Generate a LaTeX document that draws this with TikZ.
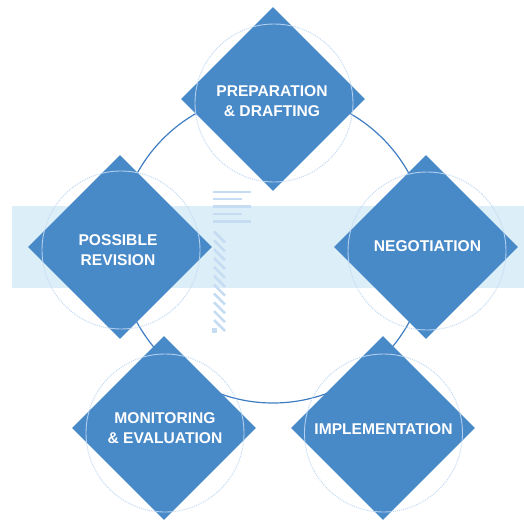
\documentclass[tikz,border=0pt]{standalone}
\usepackage{fontspec}
\newfontfamily\lbl{Liberation Sans}
\usetikzlibrary{shapes.geometric}
\definecolor{dblue}{HTML}{4889C8}
\definecolor{ringblue}{HTML}{3F7EC2}
\definecolor{lightc}{HTML}{C2DAF2}
\definecolor{inring}{HTML}{B3CFEE}
\definecolor{band}{HTML}{DCEEF7}
\definecolor{deco}{HTML}{C6DCF2}
\tikzset{
  dia/.style={diamond, fill=dblue, minimum width=184pt, minimum height=184pt, inner sep=0pt, shape aspect=1},
  lring/.style={circle, draw=lightc, densely dotted, line width=1pt, minimum size=158pt, inner sep=0pt},
  lab/.style={text=white, align=center, font=\lbl\bfseries\fontsize{15.6}{20.5}\selectfont, inner sep=0pt},
  decoline/.style={draw=deco, line width=2.7pt},
  hatch/.style={draw=deco, line width=2.6pt}
}
\begin{document}
\begin{tikzpicture}[x=1pt,y=-1pt]
\useasboundingbox (0,0) rectangle (524,519);
% band
\fill[band] (12,206) rectangle (524,288);
% big ring
\node (ring) [circle, draw=ringblue, line width=1.2pt, minimum size=310pt, inner sep=0pt] at (273,248) {};
% light rings (outer dotted)
\node (c1) [lring] at (274,103) {};
\node (c2) [lring] at (121,250) {};
\node (c3) [lring] at (427,251) {};
\node (c4) [lring] at (165,433) {};
\node (c5) [lring] at (383.5,433) {};
% diamonds
\node (d1) [dia] at (273,99) {};
\node (d2) [dia] at (120,247) {};
\node (d3) [dia] at (426,247) {};
\node (d4) [dia] at (164,428) {};
\node (d5) [dia] at (383,428) {};
% light rings over diamonds
\foreach \d/\c in {d1/c1,d2/c2,d3/c3,d4/c4,d5/c5}{
  \begin{scope}
    \clip (\d.north) -- (\d.east) -- (\d.south) -- (\d.west) -- cycle;
    \draw[inring, line width=0.9pt] (\c) circle[radius=79pt];
  \end{scope}
}
% decorative lines
\coordinate (h1a) at (213,192);   \coordinate (h1b) at (251,192);
\coordinate (h2a) at (213,199);   \coordinate (h2b) at (242,199);
\coordinate (h3a) at (213,206.5); \coordinate (h3b) at (251,206.5);
\coordinate (h4a) at (213,214);   \coordinate (h4b) at (242,214);
\coordinate (h5a) at (213,221.5); \coordinate (h5b) at (251,221.5);
\foreach \i in {1,...,5}{\draw[decoline] (h\i a) -- (h\i b);}
\foreach \k in {0,...,10}{
  \coordinate (s\k a) at (214,231.5+8.85*\k);
  \coordinate (s\k b) at (225,242.5+8.85*\k);
  \draw[hatch] (s\k a) -- (s\k b);
}
\fill[deco] (212,328) rectangle (216.5,332.5);
% labels
\node (t1) [lab] at (272,101) {PREPARATION\\\& DRAFTING};
\node (t2) [lab] at (118,250) {POSSIBLE\\REVISION};
\node (t3) [lab] at (427.5,246.5) {NEGOTIATION};
\node (t4) [lab] at (165,428) {MONITORING\\\& EVALUATION};
\node (t5) [lab] at (383.5,429.5) {IMPLEMENTATION};
\end{tikzpicture}
\end{document}
